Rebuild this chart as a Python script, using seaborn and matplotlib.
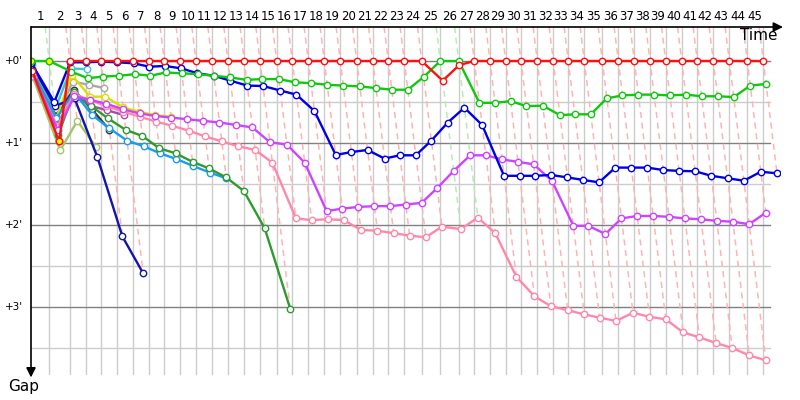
import numpy as np
import pandas as pd
import seaborn as sns
import matplotlib.pyplot as plt

# ---------------- DATA ------------------
# leader crossing time (minutes) at the end of each lap, index 0 = start
leader_time = [0.00, 1.83, 3.90, 5.47, 7.00, 8.63, 10.23, 11.77, 13.33, 14.93,
               16.50, 18.10, 19.70, 21.33, 22.90, 24.57, 26.13, 27.73, 29.33, 30.93,
               32.57, 34.17, 35.73, 37.33, 39.07, 40.93, 42.77, 44.33, 45.90, 47.47,
               49.00, 50.63, 52.23, 53.73, 55.33, 57.13, 58.73, 60.33, 61.90, 63.47,
               65.07, 66.63, 68.23, 69.83, 71.63, 73.23]
lap_labels = [str(i) for i in range(1, 46)]
gap_ticks = [0, 1, 2, 3]
gap_tick_labels = ["+0'", "+1'", "+2'", "+3'"]

# gap to leader (minutes) per lap, starting at lap 0
red_gaps = [0.12, 0.98] + [0.0] * 23 + [0.24, 0.05] + [0.0] * 19
green_gaps = [0.0, 0.0, 0.13, 0.21, 0.19, 0.18, 0.16, 0.18, 0.14, 0.15,
              0.16, 0.18, 0.20, 0.23, 0.22, 0.22, 0.26, 0.27, 0.29, 0.30,
              0.31, 0.33, 0.35, 0.35, 0.195, 0.0, 0.0, 0.51, 0.51, 0.49,
              0.55, 0.545, 0.66, 0.65, 0.65, 0.455, 0.42, 0.41, 0.41, 0.42,
              0.41, 0.43, 0.43, 0.44, 0.30, 0.28]
blue_gaps = [0.02, 0.50, 0.016, 0.016, 0.008, 0.016, 0.028, 0.07, 0.06, 0.09,
             0.15, 0.18, 0.24, 0.30, 0.305, 0.36, 0.41, 0.61, 1.146, 1.11,
             1.085, 1.19, 1.15, 1.15, 0.97, 0.75, 0.57, 0.78, 1.40, 1.40,
             1.40, 1.39, 1.42, 1.45, 1.48, 1.30, 1.30, 1.30, 1.33, 1.34,
             1.345, 1.40, 1.43, 1.46, 1.35, 1.37]
magenta_gaps = [0.15, 0.84, 0.43, 0.475, 0.52, 0.59, 0.64, 0.67, 0.69, 0.71,
                0.73, 0.75, 0.78, 0.81, 0.99, 1.02, 1.24, 1.83, 1.80, 1.78,
                1.77, 1.77, 1.75, 1.73, 1.55, 1.34, 1.15, 1.15, 1.20, 1.23,
                1.26, 1.46, 2.01, 2.01, 2.11, 1.92, 1.89, 1.89, 1.90, 1.92,
                1.93, 1.95, 1.96, 1.99, 1.85]
pink_gaps = [0.18, 0.80, 0.40, 0.48, 0.55, 0.62, 0.68, 0.74, 0.79, 0.85,
             0.92, 0.98, 1.04, 1.085, 1.24, 1.92, 1.94, 1.93, 1.94, 2.06,
             2.07, 2.10, 2.13, 2.15, 2.02, 2.05, 1.91, 2.10, 2.63, 2.87,
             2.99, 3.04, 3.09, 3.13, 3.17, 3.07, 3.12, 3.15, 3.31, 3.37,
             3.44, 3.50, 3.59, 3.65]
darkgreen_gaps = [0.15, 0.90, 0.38, 0.55, 0.70, 0.84, 0.915, 1.065, 1.125, 1.23,
                  1.31, 1.42, 1.585, 2.04, 3.02]
lightblue_gaps = [0.10, 0.70, 0.38, 0.66, 0.82, 0.97, 1.04, 1.125, 1.195, 1.28,
                  1.36, 1.43]
navy_gaps = [0.03, 0.55, 0.455, 1.175, 2.14, 2.59]
yellow_gaps = [0.08, 0.70, 0.17, 0.435, 0.435, 0.565, 0.62, 0.66, 0.68]
plum_gaps = [0.14, 0.78, 0.42, 0.55, 0.60, 0.66]
gray_gaps = [0.10, 0.72, 0.25, 0.29, 0.33]
black_gaps = [0.12, 0.67, 0.35, 0.585, 0.84]
cyan_gaps = [0.05, 0.59, 0.09, 0.10]
olive_gaps = [0.20, 1.09, 0.73, 1.05]

# draw order: back markers first, leaders last
drivers = [
    ("olive", "#a8c46a", olive_gaps),
    ("cyan", "#3cc8d0", cyan_gaps),
    ("gray", "#a8a8a8", gray_gaps),
    ("black", "#333333", black_gaps),
    ("plum", "#a050a8", plum_gaps),
    ("yellow", "#dede00", yellow_gaps),
    ("navy", "#1414a8", navy_gaps),
    ("lightblue", "#1a9cf0", lightblue_gaps),
    ("darkgreen", "#2f9a2f", darkgreen_gaps),
    ("pink", "#ff88aa", pink_gaps),
    ("magenta", "#cc44ff", magenta_gaps),
    ("blue", "#0000e6", blue_gaps),
    ("green", "#10c810", green_gaps),
    ("red", "#ff1010", red_gaps),
]
# points drawn with a filled yellow marker (driver, lap)
highlight = [("green", 0), ("green", 1), ("red", 1)]

# ---------------- BUILD TABLE ------------------
rows = []
for name, color, gaps in drivers:
    for lap, g in enumerate(gaps):
        rows.append({"driver": name, "lap": lap, "gap": g, "t": leader_time[lap] + g})
df = pd.DataFrame(rows)
colors = {name: color for name, color, _ in drivers}

# ---------------- FIGURE ------------------
W, H = 800, 400
X0, X1, Y0, Y1 = 31, 780, 27, 375          # axes box in pixels
PX_X, PX_Y = 10.0, 82.0                    # pixels per minute
fig = plt.figure(figsize=(8, 4), dpi=100)
ax = fig.add_axes([X0 / W, 1 - Y1 / H, (X1 - X0) / W, (Y1 - Y0) / H])
gap_top = -(61 - Y0) / PX_Y
gap_bot = gap_top + (Y1 - Y0) / PX_Y
ax.axis("off")

# grid
grid_end = (770 - X0) / PX_X
for g in np.arange(0.5, 4.0, 1.0):
    ax.plot([0, grid_end], [g, g], color="#cccccc", lw=1, zorder=1)
for g in gap_ticks:
    ax.plot([0, grid_end], [g, g], color="#808080", lw=1, zorder=1.2)
for t in leader_time[1:]:
    ax.plot([t, t], [gap_top, gap_bot], color="#cccccc", lw=1, zorder=1.1)

# dashed lap lines from the leader to the last car on that lap
n_laps = len(leader_time) - 1
for lap in range(1, n_laps + 1):
    lap_rows = df[df.lap == lap]
    leader = lap_rows.loc[lap_rows.gap.idxmin(), "driver"]
    g_max = lap_rows.gap.max()
    t0 = leader_time[lap]
    c = "#b6ecb6" if leader == "green" else "#ffb4b4"
    ax.plot([t0 + gap_top, t0 + g_max], [gap_top, g_max], color=c, lw=1.1,
            ls=(0, (4, 3)), zorder=2)

# drivers
for name, color, _ in drivers:
    sns.lineplot(data=df[df.driver == name], x="t", y="gap", sort=False,
                 estimator=None, color=color, lw=1.7, marker="o", markersize=4.6,
                 markerfacecolor="white", markeredgecolor=color,
                 markeredgewidth=1.0, ax=ax, zorder=3, legend=False)
for name, lap in highlight:
    r = df[(df.driver == name) & (df.lap == lap)].iloc[0]
    ax.plot(r.t, r.gap, "o", ms=4.6, mfc="#ffff00", mec=colors[name], mew=1.0, zorder=4)
ax.set_xlim(0, (X1 - X0) / PX_X)
ax.set_ylim(gap_bot, gap_top)

# axes arrows
ax.annotate("", xy=(78.0 - X0 / PX_X + 0.3, gap_top), xytext=(0, gap_top),
            arrowprops=dict(arrowstyle="-|>", color="black", lw=1.2,
                            mutation_scale=14, shrinkA=0, shrinkB=0),
            annotation_clip=False, zorder=5)
ax.annotate("", xy=(0, gap_bot + 0.03), xytext=(0, gap_top),
            arrowprops=dict(arrowstyle="-|>", color="black", lw=1.2,
                            mutation_scale=14, shrinkA=0, shrinkB=0),
            annotation_clip=False, zorder=5)

# texts
top_tr = ax.get_xaxis_transform()
for i, lab in enumerate(lap_labels):
    xm = (leader_time[i] + leader_time[i + 1]) / 2
    ax.text(xm, 1 + 10 / (Y1 - Y0), lab, transform=top_tr, ha="center",
            va="center", fontsize=8.5)
side_tr = ax.get_yaxis_transform()
for g, lab in zip(gap_ticks, gap_tick_labels):
    ax.text(-8 / (X1 - X0), g, lab, transform=side_tr, ha="right", va="center",
            fontsize=7.5)
fig.text(778 / W, 1 - 36 / H, "Time", ha="right", va="center", fontsize=11)
fig.text(24 / W, 1 - 386 / H, "Gap", ha="center", va="center", fontsize=11)

plt.savefig("out.png", dpi=100)
plt.close()
